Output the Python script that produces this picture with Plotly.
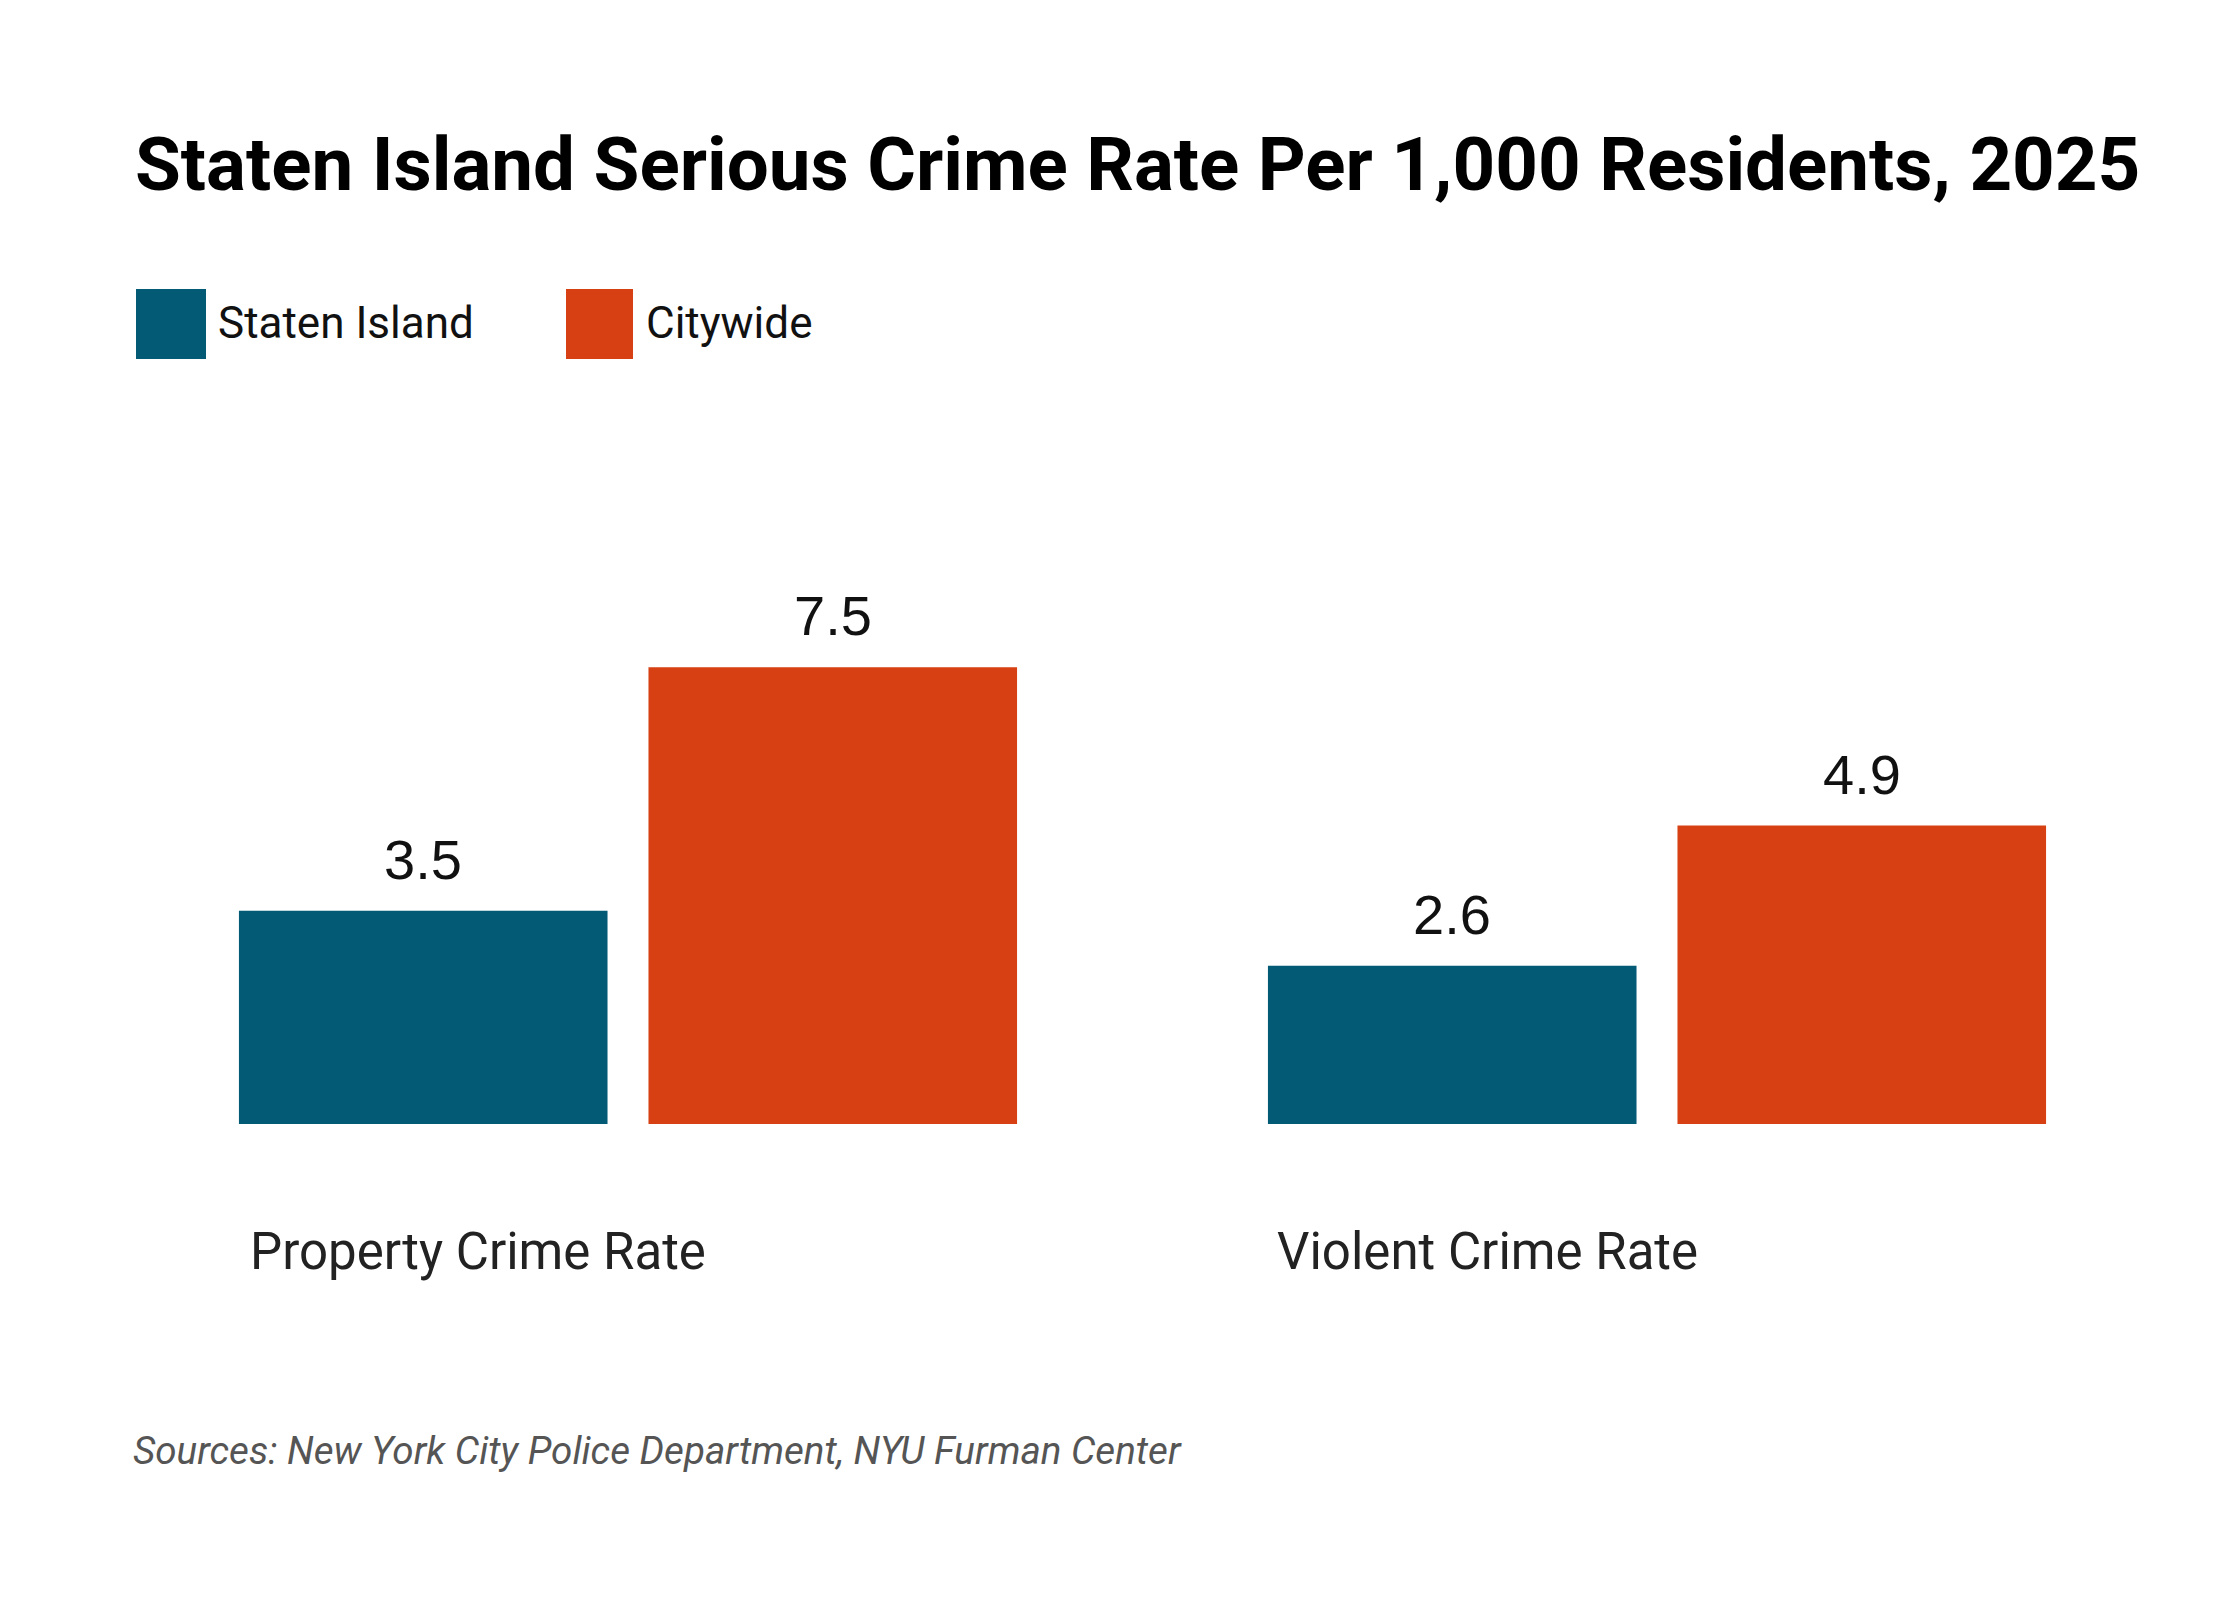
import plotly.graph_objects as go

W, H = 2240, 1600

categories = ["Property Crime Rate", "Violent Crime Rate"]
series_names = ["Staten Island", "Citywide"]
staten_island = [3.5, 2.6]
citywide = [7.5, 4.9]
colors = ["#025A74", "#D64012"]

title = "Staten Island Serious Crime Rate Per 1,000 Residents, 2025"
source = "Sources: New York City Police Department, NYU Furman Center"

# plot area in pixels
plot_left, plot_right = 105.5, 2163.5
plot_top, plot_bottom = 507, 1116
bargap, bargroupgap = 0.204, 0.100


def px(x):
    return x / W


def py(y):
    return 1 - y / H


fig = go.Figure()
for name, vals, col in zip(series_names, [staten_island, citywide], colors):
    fig.add_trace(go.Bar(x=categories, y=vals, name=name, marker_color=col,
                         marker_line_width=0, showlegend=False))

# value labels above bars
slot = (plot_right - plot_left) / 2 * (1 - bargap) / 2
annotations = []
for i, vals in enumerate([staten_island, citywide]):
    shift = (i - 0.5) * slot
    for c, v in zip(categories, vals):
        annotations.append(dict(x=c, y=v, xref="x", yref="y", text=f"{v:.1f}",
                                showarrow=False, xshift=shift, yshift=18,
                                yanchor="bottom", xanchor="center",
                                font=dict(family="Liberation Sans", size=56, color="#111")))

# title
annotations.append(dict(x=px(125), y=py(156), xref="paper", yref="paper", text="<b>" + title + "</b>",
                        showarrow=False, xanchor="left", yanchor="middle",
                        font=dict(family="Roboto", size=74.5, color="#000")))

# legend
shapes = []
legend_x = [(128, 198, 208), (558, 625, 636)]
for (x0, x1, tx), name, col in zip(legend_x, series_names, colors):
    shapes.append(dict(type="rect", xref="paper", yref="paper", x0=px(x0), x1=px(x1),
                       y0=py(351), y1=py(281), fillcolor=col, line_width=0))
    annotations.append(dict(x=px(tx), y=py(315), xref="paper", yref="paper", text=name,
                            showarrow=False, xanchor="left", yanchor="middle",
                            font=dict(family="Roboto", size=44, color="#111")))

# category labels, left aligned under each group
for c, lx in zip(categories, [240, 1267]):
    annotations.append(dict(x=px(lx), y=py(1243), xref="paper", yref="paper", text=c,
                            showarrow=False, xanchor="left", yanchor="middle",
                            font=dict(family="Roboto", size=51, color="#222")))

# source
annotations.append(dict(x=px(123), y=py(1442), xref="paper", yref="paper", text="<i>" + source + "</i>",
                        showarrow=False, xanchor="left", yanchor="middle",
                        font=dict(family="Roboto", size=38.6, color="#555")))

fig.update_layout(
    width=W, height=H,
    margin=dict(l=0, r=0, t=0, b=0),
    paper_bgcolor="white", plot_bgcolor="white",
    barmode="group", bargap=bargap, bargroupgap=bargroupgap,
    xaxis=dict(domain=[px(plot_left), px(plot_right)], showticklabels=False,
               showgrid=False, zeroline=False, showline=False, ticks=""),
    yaxis=dict(domain=[py(plot_bottom), py(plot_top)], range=[0, 10], showticklabels=False,
               showgrid=False, zeroline=False, showline=False),
    annotations=annotations,
    shapes=shapes,
)

fig.write_html("out.html")
